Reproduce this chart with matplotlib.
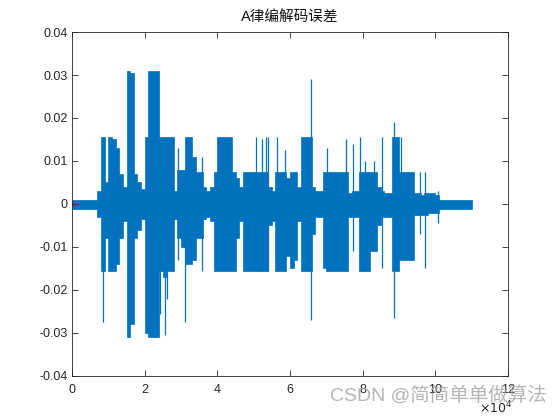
import matplotlib.pyplot as plt
import numpy as np

plt.rcParams['font.family'] = ['Liberation Sans', 'Noto Sans CJK SC', 'DejaVu Sans']

BLOCK = 1000  # samples per envelope block

# envelope of the error signal per 1000-sample block, in units of 1e-3
upper_env = [
    0.9, 0.9, 0.9, 0.9, 0.9, 0.9, 0.9, 3, 15.5, 5,
    15.5, 15, 13, 7, 4, 31, 30.5, 7, 5, 3.5,
    15.5, 31, 31, 31, 15.5, 15.5, 15.5, 15.5, 3, 8,
    8, 15.5, 15.5, 11, 7.5, 7.5, 4, 3, 4, 7.5,
    15.5, 15.5, 15.5, 15.5, 7.5, 6, 4, 7.5, 7.5, 7.5,
    7.5, 7.5, 7.5, 7.5, 4, 3, 7.5, 7.5, 7.5, 6,
    7.5, 7.5, 4, 15.5, 15.5, 15.5, 4, 3, 3, 7.5,
    7.5, 7.5, 7.5, 7.5, 7.5, 7.5, 2.5, 3, 3, 7.5,
    7.5, 7.5, 7.5, 7.5, 4, 3, 2.5, 2.5, 15.5, 15.5,
    7.5, 7.5, 7.5, 7.5, 2.5, 2.5, 2, 2.5, 2.5, 2.5,
    2, 0.9, 0.9, 0.9, 0.9, 0.9, 0.9, 0.9, 0.9, 0.9,
]
lower_env = [
    -1.1, -1.1, -1.1, -1.1, -1.1, -1.1, -1.1, -3, -15.5, -8,
    -15.5, -15.5, -14, -8, -4, -31, -28, -8, -6, -3.5,
    -30, -31, -31, -31, -15.5, -17, -15.5, -15.5, -3.5, -8,
    -10, -14, -14, -13, -8, -8, -3.5, -3, -4, -15.5,
    -15.5, -15.5, -15.5, -15.5, -15.5, -8, -4, -15.5, -15.5, -15.5,
    -15.5, -15.5, -15.5, -15.5, -5, -4, -15.5, -15.5, -15.5, -12,
    -15, -13, -4, -15.5, -15.5, -15.5, -7, -3, -3, -15,
    -15.5, -15.5, -15.5, -15.5, -15.5, -15.5, -3, -3, -3, -15.5,
    -15.5, -15.5, -11, -11, -5, -3, -3, -3, -15.5, -15.5,
    -13, -13, -13, -13, -2.5, -2.5, -2.5, -2.5, -2, -2,
    -2, -1.1, -1.1, -1.1, -1.1, -1.1, -1.1, -1.1, -1.1, -1.1,
]

# isolated narrow spikes: sample index, top, bottom (1e-3)
spike_pos = [8450, 24200, 25600, 26200, 29300, 31000, 35700, 50500, 52300, 53300,
             54000, 56300, 58500, 65800, 70200, 75500, 77400, 79200, 80600, 83000,
             85400, 88600, 90500, 95800, 97200, 100800]
spike_top = [15.5, 15.5, 15.5, 15.5, 13, 8, 11, 15.5, 15, 15.5,
             15.5, 15.5, 12.5, 29, 13, 15, 14, 15.5, 10, 10,
             15.5, 19, 15.5, 7.5, 7.5, 3]
spike_bot = [-27.5, -25.5, -30.5, -22, -13, -27.5, -15.5, -15.5, -15.5, -15.5,
             -15.5, -15.5, -15.5, -27, -15.5, -15.5, -11, -15.5, -15.5, -11,
             -15, -26.5, -13, -7, -15, -4.5]

x_ticks = [0, 20000, 40000, 60000, 80000, 100000, 120000]
x_labels = ['0', '2', '4', '6', '8', '10', '12']
y_ticks = [-0.04, -0.03, -0.02, -0.01, 0, 0.01, 0.02, 0.03, 0.04]
y_labels = ['-0.04', '-0.03', '-0.02', '-0.01', '0', '0.01', '0.02', '0.03', '0.04']

BLUE = '#0072BD'
AX_COLOR = '#262626'

fig = plt.figure(figsize=(5.6, 4.2), dpi=100)
ax = fig.add_axes([0.1286, 0.1048, 0.7786, 0.819])

up = np.array(upper_env) * 1e-3
lo = np.array(lower_env) * 1e-3
edges = np.arange(len(up) + 1) * BLOCK
ax.fill_between(edges, np.append(up, up[-1]), np.append(lo, lo[-1]),
                step='post', color=BLUE, lw=0.5, edgecolor=BLUE)
ax.vlines(spike_pos, np.array(spike_bot) * 1e-3, np.array(spike_top) * 1e-3,
          color=BLUE, lw=0.9)

ax.set_xlim(0, 120000)
ax.set_ylim(-0.04, 0.04)
ax.set_xticks(x_ticks)
ax.set_xticklabels(x_labels)
ax.set_yticks(y_ticks)
ax.set_yticklabels(y_labels)
ax.tick_params(direction='in', length=4.5, width=0.6, colors=AX_COLOR,
               labelsize=9, top=True, right=True)
ax.tick_params(axis='x', pad=6)
ax.tick_params(axis='y', pad=3)
for sp in ax.spines.values():
    sp.set_color(AX_COLOR)
    sp.set_linewidth(0.6)

ax.set_title('A律编解码误差', fontsize=10.5, color='#111111', pad=8,
             family=['Liberation Sans', 'Noto Sans CJK SC'])
fig.text(0.855, 0.01, r'$\times10^{4}$', fontsize=9, color=AX_COLOR, ha='left', va='bottom')

fig.text(0.976, 0.037, 'CSDN @简简单单做算法', fontsize=14, color='#a8a8a8', alpha=0.85,
         ha='right', va='bottom', family=['Liberation Sans', 'Noto Sans CJK SC'])

fig.savefig('out.png', dpi=100)
